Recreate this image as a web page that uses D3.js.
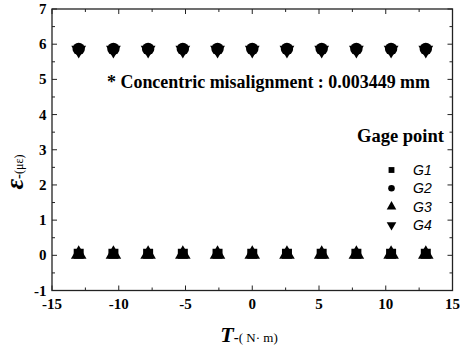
<!DOCTYPE html>
<html><head><meta charset="utf-8">
<script src="https://cdn.jsdelivr.net/npm/d3@7"></script>
<style>body{margin:0;background:#fff}svg{display:block}
.serif{font-family:"Liberation Serif","Times New Roman",Times,serif}
.fb{font-weight:bold}
.sans{font-family:"Liberation Sans",Arial,Helvetica,sans-serif}
</style>
</head><body>
<script>
const torque = [-13, -10.4, -7.8, -5.2, -2.6, 0, 2.6, 5.2, 7.8, 10.4, 13];
const g1 = [0.03, 0.03, 0.03, 0.03, 0.03, 0.03, 0.03, 0.03, 0.03, 0.03, 0.03];
const g2 = [5.85, 5.85, 5.85, 5.85, 5.85, 5.85, 5.85, 5.85, 5.85, 5.85, 5.85];
const g3 = [0.03, 0.03, 0.03, 0.03, 0.03, 0.03, 0.03, 0.03, 0.03, 0.03, 0.03];
const g4 = [5.85, 5.85, 5.85, 5.85, 5.85, 5.85, 5.85, 5.85, 5.85, 5.85, 5.85];
const seriesNames = ["G1", "G2", "G3", "G4"];
const xTicks = [-15, -10, -5, 0, 5, 10, 15];
const yTicks = [-1, 0, 1, 2, 3, 4, 5, 6, 7];
const annotation = "* Concentric misalignment : 0.003449 mm";
const legendTitle = "Gage point";

const W = 460, H = 349;
const L = 52, R = 452.5, T = 9, B = 290.5;
const svg = d3.select("body").append("svg").attr("width", W).attr("height", H);
const x = d3.scaleLinear().domain([-15, 15]).range([L, R]);
const y = d3.scaleLinear().domain([-1, 7]).range([B, T]);

const axisColor = "#222";

svg.append("rect").attr("x", L).attr("y", T).attr("width", R - L).attr("height", B - T)
  .attr("fill", "none").attr("stroke", axisColor).attr("stroke-width", 1.3);

const xMinor = d3.range(-15, 15.01, 2.5);
const yMinor = d3.range(-1, 7.01, 0.5);
function isMajor(v, step) { return Math.abs(v / step - Math.round(v / step)) < 1e-6; }

const tk = svg.append("g").attr("stroke", axisColor).attr("stroke-width", 1);
xMinor.forEach(v => {
  const len = isMajor(v, 5) ? 5 : 3;
  tk.append("line").attr("x1", x(v)).attr("x2", x(v)).attr("y1", B).attr("y2", B - len);
  tk.append("line").attr("x1", x(v)).attr("x2", x(v)).attr("y1", T).attr("y2", T + len);
});
yMinor.forEach(v => {
  const len = isMajor(v, 1) ? 5 : 3;
  tk.append("line").attr("x1", L).attr("x2", L + len).attr("y1", y(v)).attr("y2", y(v));
  tk.append("line").attr("x1", R).attr("x2", R - len).attr("y1", y(v)).attr("y2", y(v));
});

svg.append("g").selectAll("text").data(xTicks).join("text").attr("class", "serif fb")
  .attr("x", d => x(d)).attr("y", 309).attr("text-anchor", "middle")
  .attr("font-size", 15)
  .text(d => d);
svg.append("g").selectAll("text").data(yTicks).join("text").attr("class", "serif fb")
  .attr("x", 46.5).attr("y", d => y(d) + 5).attr("text-anchor", "end")
  .attr("font-size", 15)
  .text(d => d);

const xt = svg.append("text").attr("class", "serif").attr("x", 249).attr("y", 342).attr("text-anchor", "middle");
xt.append("tspan").attr("class", "fb").attr("font-style", "italic").attr("font-size", 22).text("T");
xt.append("tspan").attr("class", "fb").attr("font-size", 15).text("-");
xt.append("tspan").attr("font-size", 13).text("( N· m)");

const yt = svg.append("text").attr("class", "serif").attr("transform", "translate(23,172) rotate(-90)")
  .attr("text-anchor", "middle");
yt.append("tspan").attr("class", "fb").attr("font-style", "italic").attr("font-size", 26).text("ε");
yt.append("tspan").attr("class", "fb").attr("font-size", 15).text("-");
yt.append("tspan").attr("font-size", 12).text("(με)");

svg.append("text").attr("class", "serif fb").attr("x", 107).attr("y", 88)
  .attr("font-size", 18).attr("textLength", 323).attr("lengthAdjust", "spacingAndGlyphs").text(annotation);

const symbols = [d3.symbolSquare, d3.symbolCircle, d3.symbolTriangle, d3.symbolTriangle];
const rot = [0, 0, 0, 180];
const sizes = [100, 120, 105, 95];
const dy = [-0.5, -0.5, 0, 0.5];
const data = [g1, g2, g3, g4];
data.forEach((vals, i) => {
  const p = d3.symbol().type(symbols[i]).size(sizes[i])();
  svg.append("g").selectAll("path").data(vals).join("path")
    .attr("d", p)
    .attr("transform", (d, j) => `translate(${x(torque[j])},${y(d) + dy[i]}) rotate(${rot[i]})`)
    .attr("fill", "#000");
});

svg.append("text").attr("class", "serif fb").attr("x", 357).attr("y", 142)
  .attr("font-size", 18.5).attr("textLength", 87).attr("lengthAdjust", "spacingAndGlyphs").text(legendTitle);
const lg = svg.append("g");
seriesNames.forEach((n, i) => {
  const yy = 170 + i * 18.3;
  lg.append("path").attr("d", d3.symbol().type(symbols[i]).size(i < 2 ? 34 : 40)())
    .attr("transform", `translate(391.5,${yy}) rotate(${rot[i]})`).attr("fill", "#000");
  lg.append("text").attr("class", "sans").attr("x", 413).attr("y", yy + 5)
    .attr("font-style", "italic").attr("font-size", 14).text(n);
});
</script>
</body></html>
